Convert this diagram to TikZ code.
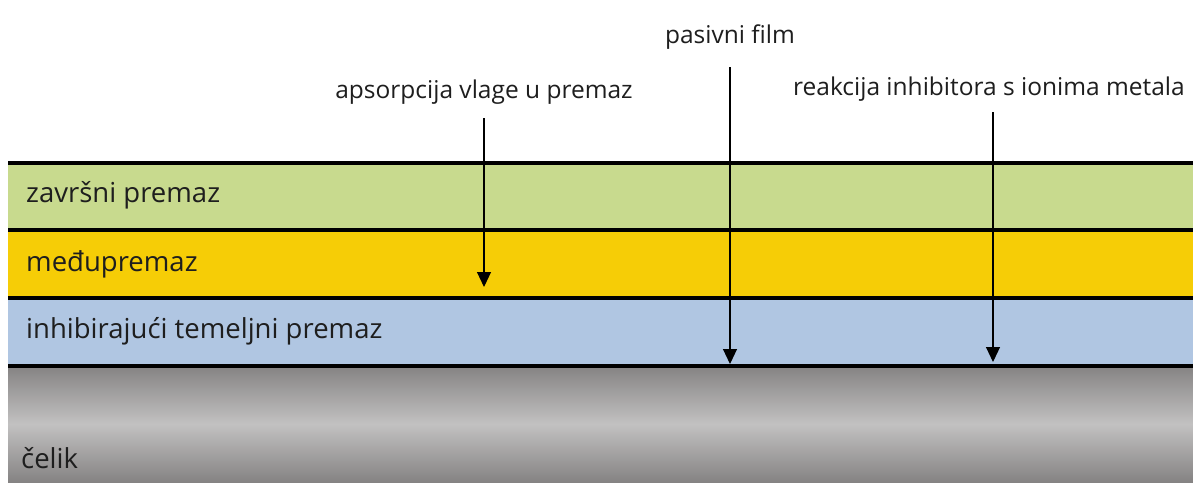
\documentclass[tikz,border=0pt]{standalone}
\usepackage{fontspec}
\setmainfont{Open Sans}
\usetikzlibrary{arrows.meta}
\definecolor{greenL}{HTML}{C8DA8E}
\definecolor{yellowL}{HTML}{F6CD06}
\definecolor{blueL}{HTML}{B0C6E2}
\definecolor{steelD}{HTML}{858383}
\definecolor{steelL}{HTML}{C2C1C1}
\definecolor{txt}{HTML}{1E1E1E}
\tikzset{
  sep/.style={line width=4pt, black},
  lay/.style={anchor=west, inner sep=0pt, font=\fontsize{27.5}{30}\selectfont, text=txt},
  lab/.style={inner sep=0pt, font=\fontsize{24.5}{28}\selectfont, text=txt},
  arr/.style={line width=1.1pt, -{Triangle[width=14pt,length=15pt]}}
}
\begin{document}
\begin{tikzpicture}[x=1pt,y=-1pt]
\useasboundingbox (0,0) rectangle (1193,482);
\fill[white] (0,0) rectangle (1193,482);
% layers
\fill[greenL] (8,163) rectangle (1193,230);
\fill[yellowL] (8,230) rectangle (1193,298);
\fill[blueL] (8,298) rectangle (1193,366);
\shade[top color=steelD, bottom color=steelD, middle color=steelL] (8,366) rectangle (1193,482);
\draw[sep] (8,163) -- (1193,163);
\draw[sep] (8,230) -- (1193,230);
\draw[sep] (8,298) -- (1193,298);
\draw[sep] (8,366) -- (1193,366);
% layer labels
\node[lay] (l1) at (26,195) {završni premaz};
\node[lay] (l2) at (26,264) {međupremaz};
\node[lay] (l3) at (26,331) {inhibirajući temeljni premaz};
\node[lay] (l4) at (21,458) {čelik};
% top labels
\node[lab] (t1) at (484,92) {apsorpcija vlage u premaz};
\node[lab] (t2) at (730,37) {pasivni film};
\node[lab] (t3) at (989,89) {reakcija inhibitora s ionima metala};
% arrows
\coordinate (s1) at (484,118);
\coordinate (e1) at (484,287);
\coordinate (s2) at (730,67);
\coordinate (e2) at (730,364);
\coordinate (s3) at (993,112);
\coordinate (e3) at (993,362);
\draw[arr] (s1) -- (e1);
\draw[arr] (s2) -- (e2);
\draw[arr] (s3) -- (e3);
\end{tikzpicture}
\end{document}
